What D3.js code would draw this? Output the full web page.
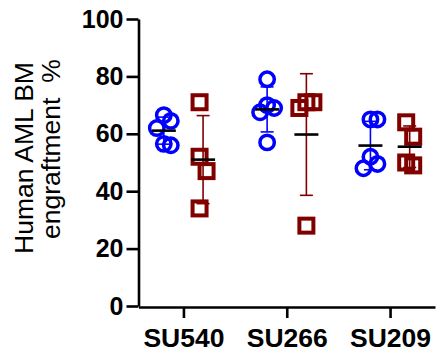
<!DOCTYPE html>
<html>
<head>
<meta charset="utf-8">
<script src="https://cdn.jsdelivr.net/npm/d3@7"></script>
<style>
  body { margin: 0; background: #fff; }
  svg { display: block; font-family: Arial, "Liberation Sans", sans-serif; }
  .axis path, .axis line { stroke: #000; stroke-width: 2.6px; }
  .axis text { font-size: 25px; font-weight: bold; fill: #000; }
  .x.axis text { font-size: 26.5px; }
</style>
</head>
<body>
<div id="chart"></div>
<script>
// engraftment % per mouse, two cohorts per patient sample
var categories = ['SU540', 'SU266', 'SU209'],
    blueValues = [
	[66.5, 64.5, 62, 56.5, 56],
	[79, 70, 69, 67.5, 57],
	[65, 65, 52, 49.5, 48]
    ],
    redValues = [
	[71, 52, 47, 34],
	[71, 71, 69, 28],
	[64, 59, 50, 49]
    ],
    yTicks = [0, 20, 40, 60, 80, 100];

var width = 438, height = 358;

var svg = d3.select('#chart')
    .append('svg')
    .attr('width', width)
    .attr('height', height);

let x = d3.scalePoint().domain(categories).range([138.5, 435]).padding(0.435);
let y = d3.scaleLinear().domain([0, 100]).range([306, 19]);

let sub = x.step() * 0.19;   // offset of each cohort from the tick

svg.append('g')
    .attr('class', 'y axis')
    .attr('transform', 'translate(138.5,0)')
    .call(d3.axisLeft(y).tickValues(yTicks).tickSize(12).tickSizeOuter(0).tickPadding(3));

svg.append('g')
    .attr('class', 'x axis')
    .attr('transform', 'translate(0,307)')
    .call(d3.axisBottom(x).tickSize(11).tickSizeOuter(0).tickPadding(10));

// y label, two lines
let label = svg.append('g')
    .attr('font-size', 26.5)
    .attr('fill', '#000');
label.append('text')
    .attr('transform', 'translate(33,254) rotate(-90)')
    .text('Human AML BM');
label.append('text')
    .attr('transform', 'translate(60,239) rotate(-90)')
    .attr('xml:space', 'preserve')
    .style('white-space', 'pre')
    .text('engraftment  %');

// spread overlapping points sideways, like a column scatter
function dodge(values, step, gap) {
    let order = values.map((v, i) => i).sort((a, b) => values[b] - values[a]);
    let placed = [];
    let offs = new Array(values.length);
    order.forEach(function(i) {
	let py = y(values[i]);
	for (let k = 0; ; k++) {
	    let o = (k == 0) ? 0 : Math.ceil(k / 2) * step * (k % 2 ? 1 : -1);
	    let hit = placed.some((p) => Math.abs(p.y - py) < gap && Math.abs(p.o - o) < step);
	    if (!hit) {
		placed.push({ y: py, o: o });
		offs[i] = o;
		break;
	    }
	}
    });
    let mid = (d3.min(offs) + d3.max(offs)) / 2;
    return offs.map((o) => o - mid);
}

function drawGroup(vals, cx, color, shape) {
    let g = svg.append('g');
    let offs = dodge(vals, 7, 17);
    let pts = vals.map((v, i) => ({ value: v, off: offs[i] }));

    if (shape == 'circle') {
	g.selectAll('circle')
	    .data(pts)
	    .enter().append('circle')
	    .attr('cx', (d) => cx + d.off)
	    .attr('cy', (d) => y(d.value))
	    .attr('r', 7.2)
	    .attr('fill', 'none')
	    .attr('stroke', color)
	    .attr('stroke-width', 3.5);
    } else {
	g.selectAll('rect')
	    .data(pts)
	    .enter().append('rect')
	    .attr('x', (d) => cx + d.off - 7)
	    .attr('y', (d) => y(d.value) - 7)
	    .attr('width', 14)
	    .attr('height', 14)
	    .attr('fill', 'none')
	    .attr('stroke', color)
	    .attr('stroke-width', 4);
    }

    let m = d3.mean(vals), sd = d3.deviation(vals);
    let eb = g.append('g')
	.attr('stroke', color)
	.attr('stroke-width', 1.6);
    eb.append('line')
	.attr('x1', cx).attr('x2', cx)
	.attr('y1', y(m + sd)).attr('y2', y(m - sd));
    [m + sd, m - sd].forEach(function(v) {
	eb.append('line')
	    .attr('x1', cx - 6.5).attr('x2', cx + 6.5)
	    .attr('y1', y(v)).attr('y2', y(v));
    });

    g.append('line')
	.attr('x1', cx - 12).attr('x2', cx + 12)
	.attr('y1', y(m)).attr('y2', y(m))
	.attr('stroke', '#000')
	.attr('stroke-width', 2.6);
}

categories.forEach(function(c, i) {
    drawGroup(blueValues[i], x(c) - sub, '#0000ff', 'circle');
    drawGroup(redValues[i], x(c) + sub, '#800000', 'square');
});
</script>
</body>
</html>
